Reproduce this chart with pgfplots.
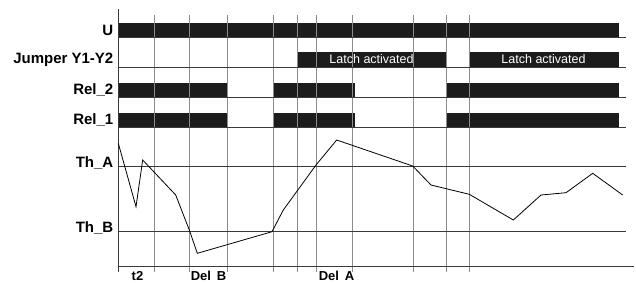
\documentclass[border=0pt]{standalone}
\usepackage{pgfplots}
\pgfplotsset{compat=1.18}
\usepackage{fontspec}
\setmainfont{Liberation Sans}
\definecolor{barc}{HTML}{1C1C1C}
\definecolor{gridc}{HTML}{8C8C8C}
\definecolor{linec}{HTML}{3A3A3A}
\begin{document}
\begin{tikzpicture}
\begin{axis}[
  width=636pt, height=282pt, scale only axis,
  xmin=0, xmax=636, ymin=0, ymax=282, y dir=reverse,
  hide axis, clip=false,
]
% bars (signal high)
\addplot[fill=barc, draw=none] coordinates {(118,23) (619,23) (619,37) (118,37)} -- cycle;
\addplot[fill=barc, draw=none] coordinates {(297.7,52) (447,52) (447,67) (297.7,67)} -- cycle;
\addplot[fill=barc, draw=none] coordinates {(470,52) (619,52) (619,67) (470,67)} -- cycle;
\addplot[fill=barc, draw=none] coordinates {(118,83) (227.3,83) (227.3,97) (118,97)} -- cycle;
\addplot[fill=barc, draw=none] coordinates {(273.3,83) (355,83) (355,97) (273.3,97)} -- cycle;
\addplot[fill=barc, draw=none] coordinates {(446.5,83) (619,83) (619,97) (446.5,97)} -- cycle;
\addplot[fill=barc, draw=none] coordinates {(118,113) (227.3,113) (227.3,127) (118,127)} -- cycle;
\addplot[fill=barc, draw=none] coordinates {(273.3,113) (355,113) (355,127) (273.3,127)} -- cycle;
\addplot[fill=barc, draw=none] coordinates {(446.5,113) (619,113) (619,127) (446.5,127)} -- cycle;
% vertical grid lines
\foreach \xv in {154,189.3,227.3,273.3,297.7,316,352.7,413.3,446,469.7} {
  \edef\tmp{\noexpand\addplot[color=gridc, line width=0.9pt] coordinates {(\xv,15) (\xv,272)};}
  \tmp
}
% baselines and thresholds
\foreach \yv in {37,67,97,127,166.7,231.7} {
  \edef\tmp{\noexpand\addplot[color=linec, line width=0.8pt] coordinates {(118,\yv) (626,\yv)};}
  \tmp
}
% axes
\addplot[color=linec, line width=1pt] coordinates {(118,9) (118,267)};
\addplot[color=linec, line width=1pt] coordinates {(118,266.7) (634,266.7)};
\addplot[color=linec, line width=0.8pt] coordinates {(118,266.7) (118,272)};
% analog signal
\addplot[color=black, line width=0.8pt] coordinates {
 (118.3,143.3) (136,206.7) (142.7,160) (175.7,195) (189.3,230) (197.3,253.3)
 (272,231.7) (283.3,210) (316,165) (336.7,140) (412.7,166) (431,185)
 (469.3,194.3) (513.3,220) (541,195) (566,192.7) (592.7,173.3) (622.7,195)
};
% labels
\node[anchor=east, font=\bfseries\fontsize{15}{17}\selectfont, inner sep=0pt] at (axis cs:113.5,30) {U};
\node[anchor=east, font=\bfseries\fontsize{15}{17}\selectfont, inner sep=0pt] at (axis cs:113.5,59.5) {Jumper Y1-Y2};
\node[anchor=east, font=\bfseries\fontsize{15}{17}\selectfont, inner sep=0pt] at (axis cs:113.5,90) {Rel\_2};
\node[anchor=east, font=\bfseries\fontsize{15}{17}\selectfont, inner sep=0pt] at (axis cs:113.5,120) {Rel\_1};
\node[anchor=base east, font=\bfseries\fontsize{15}{17}\selectfont, inner sep=0pt] at (axis cs:113.5,167.5) {Th\_A};
\node[anchor=base east, font=\bfseries\fontsize{15}{17}\selectfont, inner sep=0pt] at (axis cs:113.5,232) {Th\_B};
\node[font=\fontsize{12.5}{14}\selectfont, text=white, inner sep=0pt] at (axis cs:371.5,59.5) {Latch activated};
\node[font=\fontsize{12.5}{14}\selectfont, text=white, inner sep=0pt] at (axis cs:543.5,59.5) {Latch activated};
\node[anchor=base, font=\bfseries\fontsize{13}{15}\selectfont, inner sep=0pt] at (axis cs:137.5,280.5) {t2};
\node[anchor=base, font=\bfseries\fontsize{13}{15}\selectfont, inner sep=0pt] at (axis cs:208.5,280.5) {Del\hspace{0.45em}B};
\node[anchor=base, font=\bfseries\fontsize{13}{15}\selectfont, inner sep=0pt] at (axis cs:336.5,280.5) {Del\hspace{0.45em}A};
\coordinate (bl) at (axis cs:0,282);
\coordinate (tr) at (axis cs:636,0);
\end{axis}
\pgfresetboundingbox
\useasboundingbox (bl) rectangle (tr);
\end{tikzpicture}
\end{document}
